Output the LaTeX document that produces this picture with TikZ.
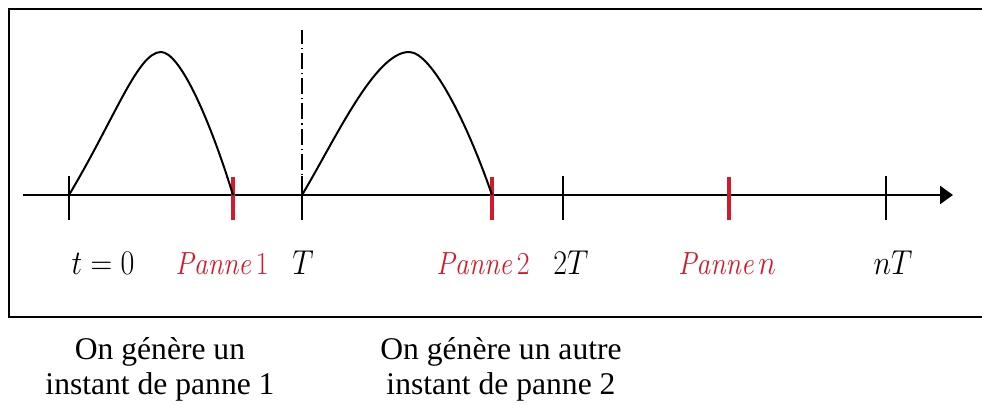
\documentclass[tikz,border=0pt]{standalone}
\usepackage{fontspec}
\newfontfamily\timesfont{Liberation Serif}
\usetikzlibrary{arrows.meta, positioning, calc}
\definecolor{panred}{HTML}{D41A2A}
\newcommand{\narrow}[1]{\scalebox{0.87}[1]{#1}}

\begin{document}
\begin{tikzpicture}[
  x=0.5pt, y=-0.5pt,
  tick/.style={line width=0.8pt},
  redtick/.style={panred, line width=1.6pt},
  hump/.style={line width=1pt},
  dashdot/.style={line width=0.7pt, dash pattern=on 8pt off 2pt on 0.6pt off 2pt},
  lbl/.style={font=\fontsize{16}{18}\selectfont, anchor=base, inner sep=0pt},
  note/.style={font=\timesfont\fontsize{15.8}{17.5}\selectfont, align=center,
    anchor=base, inner sep=0pt},
  >={Triangle[length=6.5pt, width=9pt]}
]
  \useasboundingbox (0,0) rectangle (982,406);
  % Frame
  \draw[line width=1.3pt] (982,9) -- (9,9) -- (9,317) -- (982,317);
  % Time axis
  \coordinate (start) at (23,195);
  \coordinate (end) at (953,195);
  \coordinate (t0) at (69,195);
  \coordinate (p1) at (233,195);
  \coordinate (T1) at (302,195);
  \coordinate (p2) at (492,195);
  \coordinate (T2) at (563,195);
  \coordinate (pn) at (729,195);
  \coordinate (Tn) at (886,195);
  \draw[->, line width=1.2pt] (start) -- (end);
  \foreach \c in {t0,T1,T2,Tn}
    \draw[tick] (\c) ++(0,-19) -- ++(0,44);
  \foreach \c in {p1,p2,pn}
    \draw[redtick] (\c) ++(0,-18) -- ++(0,43);
  % Period limit
  \draw[dashdot] (T1) -- ++(0,-165);
  % Densities
  \draw[hump] (t0) .. controls (115,118) and (138,52) .. (161,52)
    .. controls (180,52) and (210,120) .. (p1);
  \draw[hump] (T1) .. controls (335,140) and (375,52) .. (409,52)
    .. controls (432,52) and (468,125) .. (p2);
  % Labels
  \node[lbl] (l0) at (103,275) {\narrow{$t = 0$}};
  \node[lbl, panred] (lp1) at (222,275) {\narrow{\textit{Panne}\,1}};
  \node[lbl] (lT1) at (303,275) {\narrow{$T$}};
  \node[lbl, panred] (lp2) at (483,275) {\narrow{\textit{Panne}\,2}};
  \node[lbl] (lT2) at (571,275) {\narrow{$2T$}};
  \node[lbl, panred] (lpn) at (727,275) {\narrow{\textit{Panne}\,$n$}};
  \node[lbl] (lTn) at (893,275) {\narrow{$nT$}};
  % Notes
  \node[note] (n1) at (160,395) {On génère un\\instant de panne 1};
  \node[note] (n2) at (501,395) {On génère un autre\\instant de panne 2};
\end{tikzpicture}
\end{document}
